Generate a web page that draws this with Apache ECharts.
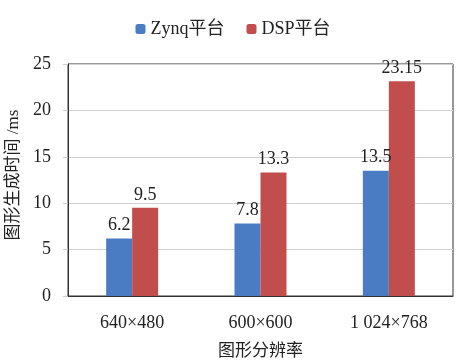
<!DOCTYPE html>
<html><head><meta charset="utf-8">
<script src="https://cdn.jsdelivr.net/npm/echarts@6/dist/echarts.min.js"></script>
<style>html,body{margin:0;padding:0;background:#fff}#c{width:466px;height:363px}</style>
</head><body><div id="c"></div>
<script>
const categories = ['640×480', '600×600', '1 024×768'];
const zynq = [6.2, 7.8, 13.5];
const dsp = [9.5, 13.3, 23.15];
const seriesNames = ['Zynq平台', 'DSP平台'];
const yTicks = { min: 0, max: 25, interval: 5 };
const xName = '图形分辨率';
const yName = '图形生成时间 /ms';

const FONT = '"Liberation Serif", "Noto Sans CJK SC", serif';
const chart = echarts.init(document.getElementById('c'));
const lbl = { show: true, position: 'top', fontFamily: FONT, fontSize: 18, color: '#222', distance: 4 };
chart.setOption({
  animation: false,
  legend: {
    top: 15, left: 'center', itemWidth: 10, itemHeight: 10, itemGap: 22,
    textStyle: { fontFamily: FONT, fontSize: 18, color: '#222' },
    data: seriesNames
  },
  grid: { left: 68, right: 13, top: 64, bottom: 67, show: true, borderColor: '#333', borderWidth: 1,
          outerBoundsMode: 'none', containLabel: false },
  xAxis: {
    type: 'category', data: categories,
    name: xName, nameLocation: 'middle', nameGap: 47,
    nameTextStyle: { fontFamily: FONT, fontSize: 17, color: '#222' },
    axisLine: { show: true, lineStyle: { color: '#333' } },
    axisTick: { show: false },
    axisLabel: { fontFamily: FONT, fontSize: 18, color: '#222', margin: 18 }
  },
  yAxis: {
    type: 'value', min: yTicks.min, max: yTicks.max, interval: yTicks.interval,
    name: yName, nameLocation: 'middle', nameGap: 42, nameRotate: 90,
    nameTextStyle: { fontFamily: FONT, fontSize: 17, color: '#222', padding: [0, 0, 0, 10] },
    axisLine: { show: true, lineStyle: { color: '#333' } },
    axisTick: { show: true, length: 5, lineStyle: { color: '#ccc' } },
    splitLine: { lineStyle: { color: '#d0d0d0' } },
    axisLabel: { fontFamily: FONT, fontSize: 18, color: '#222', margin: 17 }
  },
  series: [
    { name: seriesNames[0], type: 'bar', data: zynq, barWidth: 26, barGap: '0%',
      itemStyle: { color: '#4a7cc3' }, label: lbl },
    { name: seriesNames[1], type: 'bar', data: dsp, barWidth: 26, barGap: '0%',
      itemStyle: { color: '#c24d4d' }, label: lbl }
  ]
});
</script></body></html>
